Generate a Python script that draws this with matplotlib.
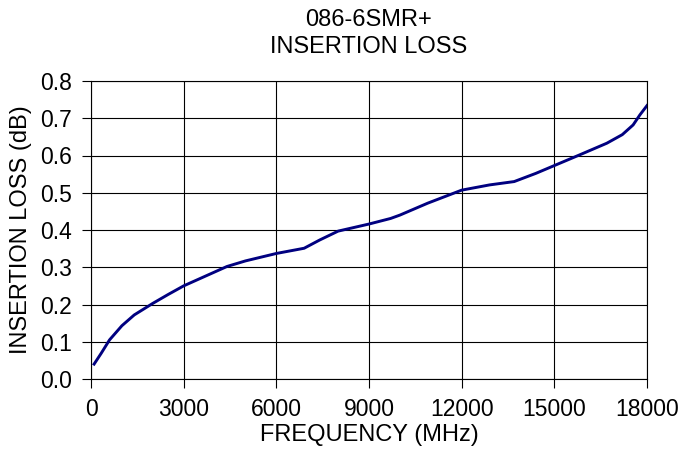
import matplotlib
matplotlib.use('Agg')
import matplotlib.pyplot as plt

# insertion loss
freq = [100, 330, 600, 1000, 1400, 2000, 2500, 3000, 3700, 4400, 5000, 6000,
        6900, 7400, 8000, 9000, 9700, 10000, 10900, 12000, 12900, 13700,
        14400, 15000, 15800, 16700, 17200, 17550, 17770, 18000]
loss = [0.040, 0.069, 0.105, 0.143, 0.172, 0.203, 0.227, 0.250, 0.276, 0.302, 0.317, 0.337,
        0.351, 0.373, 0.397, 0.416, 0.431, 0.440, 0.472, 0.507, 0.521, 0.530,
        0.552, 0.573, 0.601, 0.633, 0.656, 0.682, 0.709, 0.734]

x_ticks = [0, 3000, 6000, 9000, 12000, 15000, 18000]
y_ticks = [0.0, 0.1, 0.2, 0.3, 0.4, 0.5, 0.6, 0.7, 0.8]

plt.rcParams['font.family'] = ['Liberation Sans', 'DejaVu Sans']

fig = plt.figure(figsize=(6.81, 4.55), dpi=100)
ax = fig.add_axes([91 / 681, 1 - 379 / 455, 556 / 681, 298 / 455])

ax.plot(freq, loss, color='#000080', linewidth=2.1, solid_joinstyle='round')

ax.set_xlim(0, 18000)
ax.set_ylim(0, 0.8)
ax.set_xticks(x_ticks)
ax.set_yticks(y_ticks)
ax.set_yticklabels(['%.1f' % v for v in y_ticks])
ax.grid(True, color='black', linewidth=0.8)
ax.tick_params(direction='out', length=6.5, width=0.8, pad=7, labelsize=16.5)
for s in ax.spines.values():
    s.set_color('black')
    s.set_linewidth(0.8)

ax.set_title('086-6SMR+\nINSERTION LOSS', fontsize=17, pad=20, linespacing=1.3)
ax.set_xlabel('FREQUENCY (MHz)', fontsize=17, labelpad=2)
ax.set_ylabel('INSERTION LOSS (dB)', fontsize=17, labelpad=6)

fig.savefig('out.png', dpi=100)
